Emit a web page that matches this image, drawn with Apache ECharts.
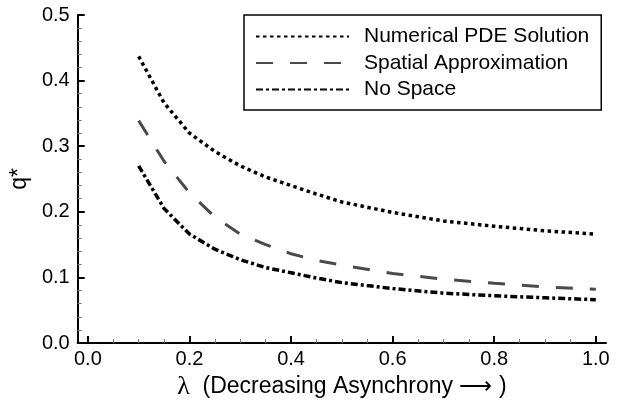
<!DOCTYPE html>
<html>
<head>
<meta charset="utf-8">
<script src="https://cdn.jsdelivr.net/npm/echarts@6/dist/echarts.min.js"></script>
<style>html,body{margin:0;padding:0;background:#fff}#c{width:618px;height:412px}</style>
</head>
<body>
<div id="c"></div>
<script>
const lambdaValues = [0.1, 0.15, 0.2, 0.25, 0.3, 0.35, 0.4, 0.45, 0.5, 0.6, 0.7, 0.8, 0.9, 1.0];
const pdeSolution = [0.437, 0.366, 0.320, 0.292, 0.270, 0.253, 0.240, 0.227, 0.215, 0.199, 0.186, 0.178, 0.171, 0.166];
const spatialApprox = [0.339, 0.277, 0.229, 0.192, 0.166, 0.150, 0.136, 0.126, 0.1187, 0.106, 0.0973, 0.091, 0.0855, 0.082];
const noSpace = [0.270, 0.205, 0.166, 0.143, 0.127, 0.115, 0.107, 0.099, 0.092, 0.083, 0.076, 0.072, 0.069, 0.066];
const xMajorTicks = [0, 0.2, 0.4, 0.6, 0.8, 1.0];
const xMinorTicks = [0.05, 0.1, 0.15, 0.25, 0.3, 0.35, 0.45, 0.5, 0.55, 0.65, 0.7, 0.75, 0.85, 0.9, 0.95];
const seriesNames = ['Numerical PDE Solution', 'Spatial Approximation', 'No Space'];

const FONT = '"Liberation Sans", Arial, sans-serif';
const pairs = arr => lambdaValues.map((x, i) => [x, arr[i]]);

const chart = echarts.init(document.getElementById('c'), null, {renderer: 'canvas'});
chart.setOption({
  animation: false,
  backgroundColor: '#fff',
  textStyle: {fontFamily: FONT, color: '#000'},
  grid: {left: 76, right: 12, top: 15, bottom: 69, containLabel: false},
  legend: {
    orient: 'vertical', left: 244, top: 15,
    padding: [11, 12, 10, 11],
    itemWidth: 93, itemHeight: 21, itemGap: 5.5,
    borderColor: '#000', borderWidth: 1.5,
    itemStyle: {opacity: 0},
    textStyle: {fontSize: 21, color: '#000', fontFamily: FONT, padding: [0, 0, 0, 10]},
    data: seriesNames
  },
  xAxis: [{
    type: 'value', min: -0.02, max: 1.02, position: 'bottom',
    name: '{l|λ}  (Decreasing Asynchrony ⟶ )',
    nameLocation: 'middle', nameGap: 28,
    nameTextStyle: {
      fontSize: 23, color: '#000', fontFamily: FONT,
      rich: {l: {fontSize: 26, fontFamily: '"Liberation Serif", "DejaVu Serif", serif', color: '#000'}}
    },
    axisLine: {show: true, onZero: false, lineStyle: {color: '#000', width: 2}},
    axisTick: {show: true, inside: true, length: 7, customValues: xMajorTicks, lineStyle: {color: '#000', width: 2}},
    axisLabel: {show: true, customValues: xMajorTicks, margin: 6, fontSize: 20, color: '#000', fontFamily: FONT,
      formatter: v => Number(v).toFixed(1)},
    splitLine: {show: false}
  }, {
    type: 'value', min: -0.02, max: 1.02, position: 'bottom',
    axisLine: {show: false},
    axisTick: {show: true, inside: true, length: 4, customValues: xMinorTicks, lineStyle: {color: '#777', width: 1}},
    axisLabel: {show: false},
    splitLine: {show: false}
  }],
  yAxis: {
    type: 'value', min: 0, max: 0.5, interval: 0.1,
    name: 'q*', nameLocation: 'middle', nameGap: 40, nameRotate: 90,
    nameTextStyle: {fontSize: 23, color: '#000', fontFamily: FONT},
    axisLine: {show: true, onZero: false, lineStyle: {color: '#000', width: 2}},
    axisTick: {show: true, inside: true, length: 7, lineStyle: {color: '#000', width: 2}},
    minorTick: {show: true, splitNumber: 5, length: 4, lineStyle: {color: '#777', width: 1}},
    axisLabel: {margin: 8, fontSize: 20, color: '#000', fontFamily: FONT, formatter: v => v.toFixed(1)},
    splitLine: {show: false}
  },
  series: [{
    name: seriesNames[0], type: 'line', data: pairs(pdeSolution), symbol: 'none',
    lineStyle: {color: '#000', width: 3.5, type: [3.5, 3.5]}, itemStyle: {color: '#000'}
  }, {
    name: seriesNames[1], type: 'line', data: pairs(spatialApprox), symbol: 'none',
    lineStyle: {color: '#4a4a4a', width: 3, type: [17, 17]}, itemStyle: {color: '#4a4a4a'}
  }, {
    name: seriesNames[2], type: 'line', data: pairs(noSpace), symbol: 'none',
    lineStyle: {color: '#000', width: 3.5, type: [7, 3, 3, 3]}, itemStyle: {color: '#000'}
  }]
});
</script>
</body>
</html>
